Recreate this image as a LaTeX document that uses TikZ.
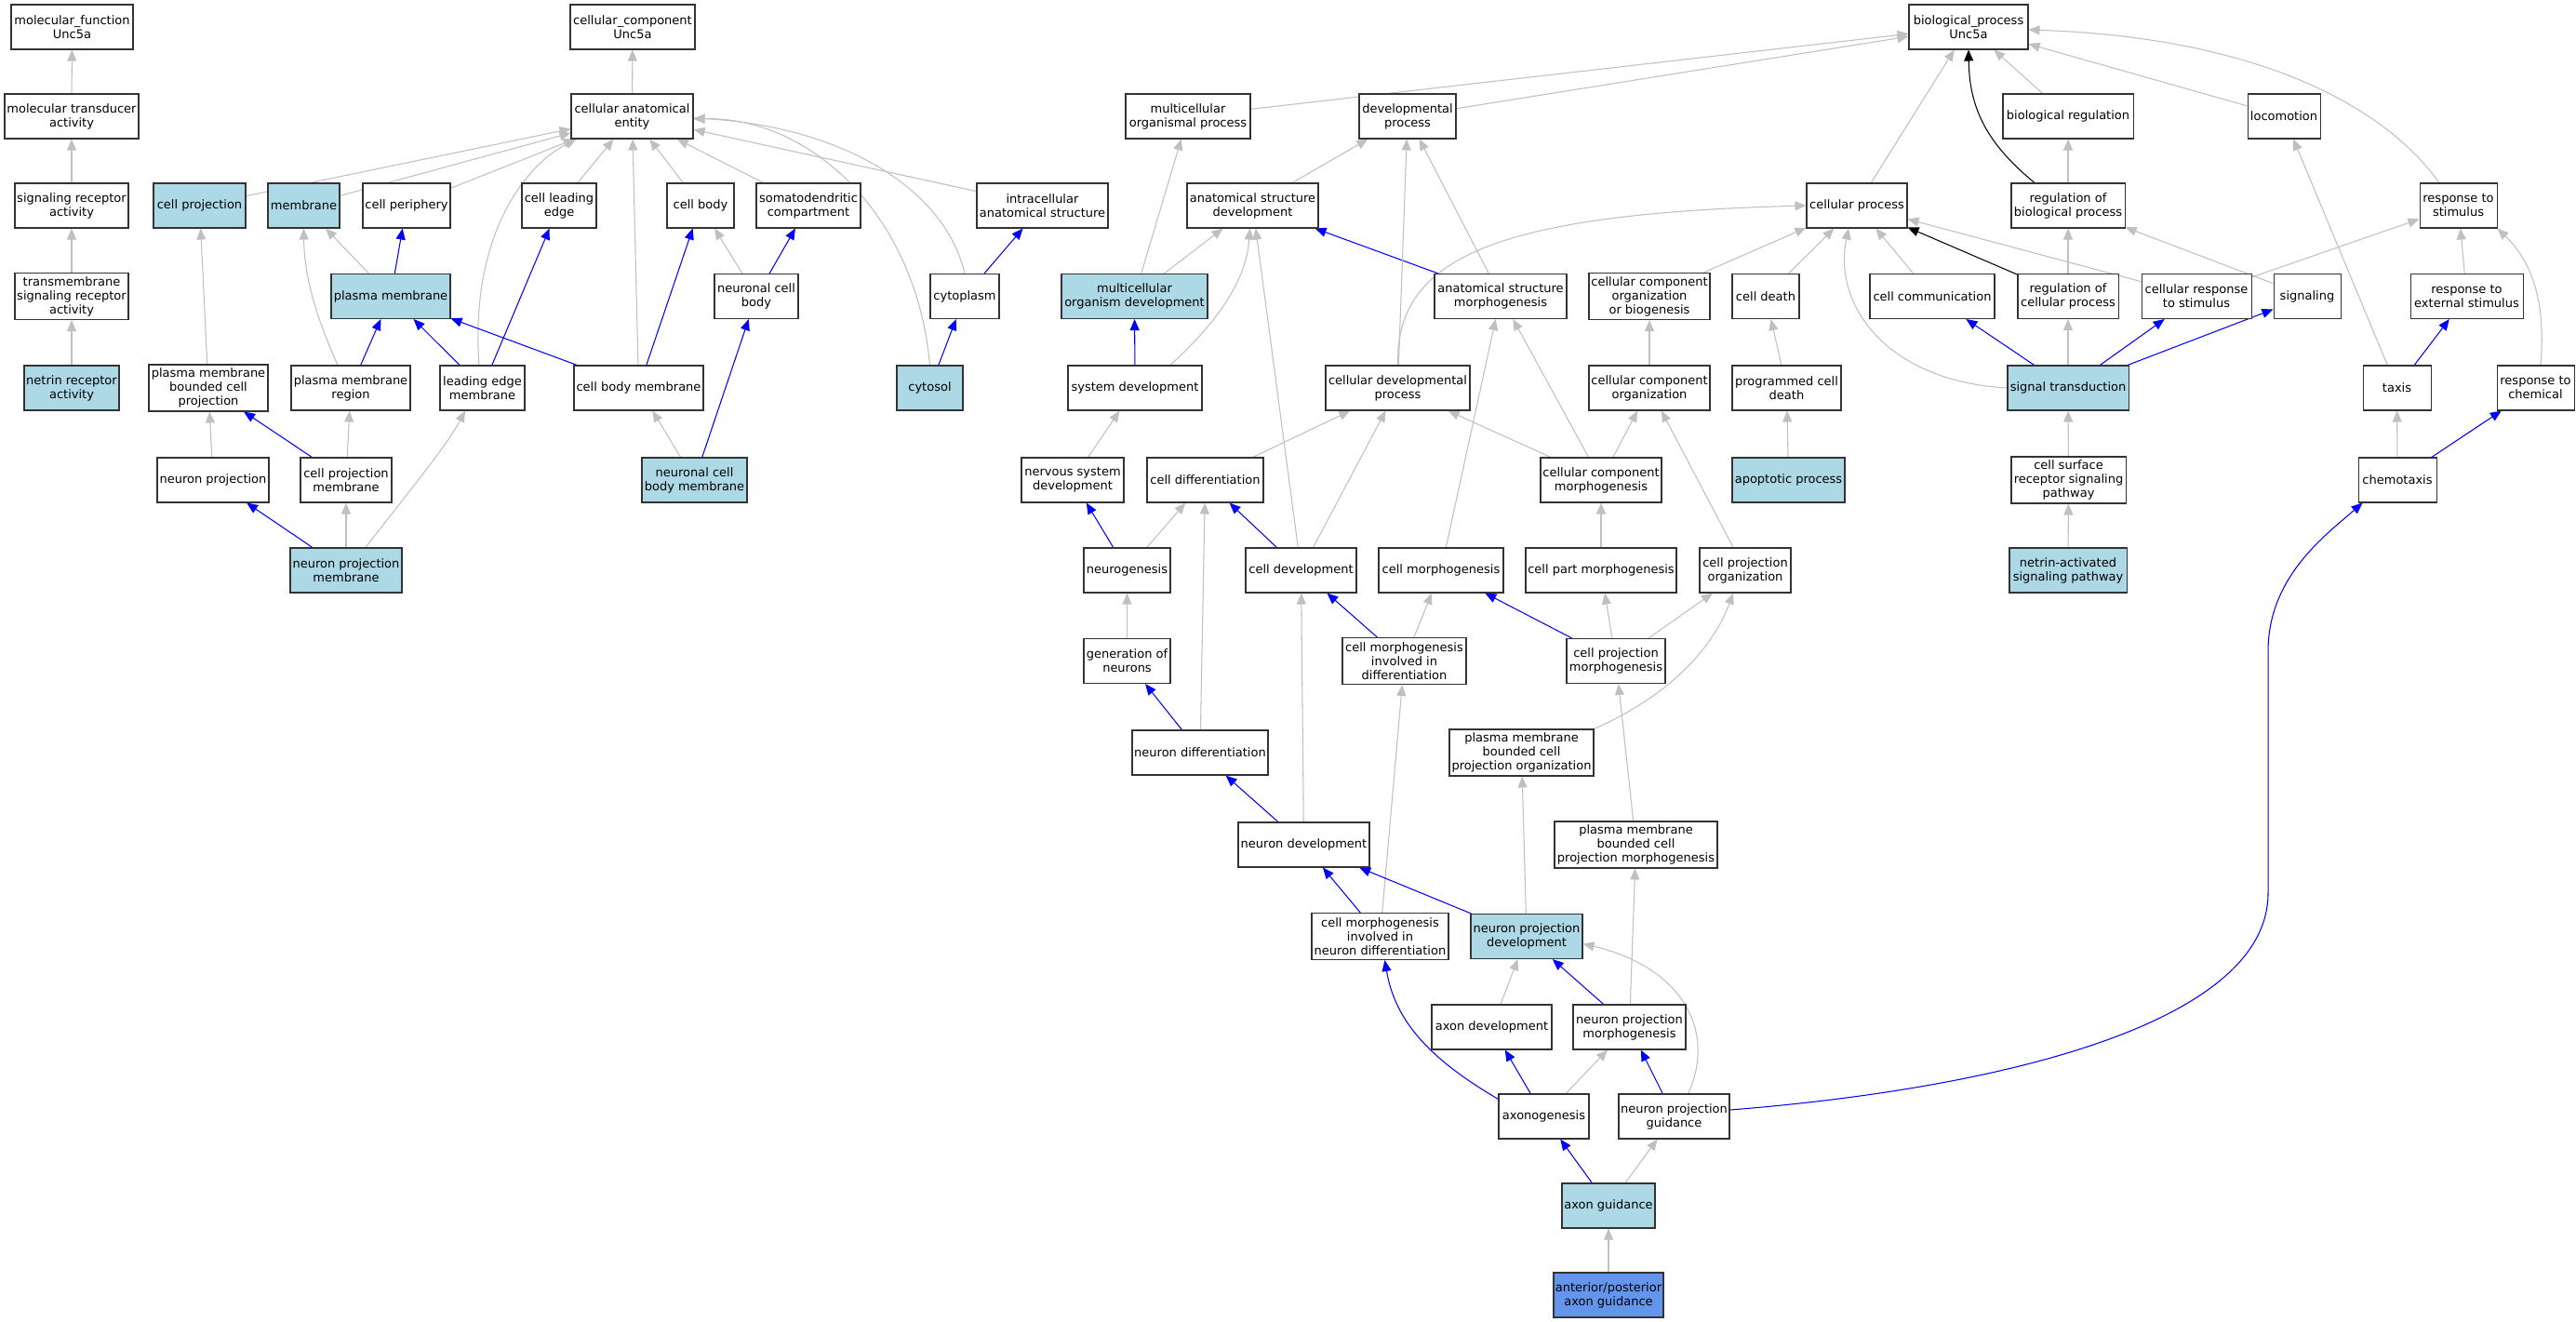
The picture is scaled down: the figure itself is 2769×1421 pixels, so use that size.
\documentclass[tikz,border=0pt]{standalone}
\usepackage{fontspec}
\setmainfont{DejaVu Sans}
\usetikzlibrary{arrows.meta,backgrounds}
\definecolor{lightbluefill}{HTML}{ADD8E6}
\definecolor{cornflower}{HTML}{6495ED}
\definecolor{edgegray}{HTML}{C0C0C0}
\definecolor{boxline}{HTML}{333333}
\tikzset{
  box/.style={draw=boxline, line width=1.05pt, fill=white, rectangle, inner sep=0pt,
    minimum height=48pt, align=center, font=\fontsize{13}{15}\selectfont},
  lb/.style={box, fill=lightbluefill},
  cbx/.style={box, fill=cornflower},
  tall/.style={minimum height=50pt},
  tip/.style={-{Triangle[length=12pt,width=10pt]}},
  ge/.style={draw=edgegray, line width=1.05pt, tip},
  be/.style={draw=blue, line width=1.05pt, tip},
  ke/.style={draw=black, line width=1.05pt, tip},
}
\begin{document}
\begin{tikzpicture}[x=1pt,y=-1pt]
\useasboundingbox (0,0) rectangle (2769,1421);
% Row 0
\node[box, minimum width=131pt] (mf) at (77.5,29) {molecular\_function\\Unc5a};
\node[box, minimum width=134pt] (cc) at (680,29) {cellular\_component\\Unc5a};
\node[box, minimum width=128pt] (bp) at (2116,29) {biological\_process\\Unc5a};
% Row 1
\node[box, minimum width=144pt] (mta) at (77,125) {molecular transducer\\activity};
\node[box, minimum width=131pt] (cae) at (679.5,125) {cellular anatomical\\entity};
\node[box, minimum width=134pt] (mop) at (1277,125) {multicellular\\organismal process};
\node[box, minimum width=104pt] (devp) at (1513,125) {developmental\\process};
\node[box, minimum width=140pt] (breg) at (2223,125) {biological regulation};
\node[box, minimum width=78pt] (loco) at (2455,125) {locomotion};
% Row 2
\node[box, minimum width=122pt] (sra) at (77,221) {signaling receptor\\activity};
\node[lb, minimum width=99pt] (cproj) at (214.5,221) {cell projection};
\node[lb, minimum width=77pt] (memb) at (326.5,221) {membrane};
\node[box, minimum width=94pt] (cper) at (437,221) {cell periphery};
\node[box, minimum width=80pt] (cle) at (601,221) {cell leading\\edge};
\node[box, minimum width=72pt] (cbody) at (753,221) {cell body};
\node[box, minimum width=112pt] (sdc) at (869,221) {somatodendritic\\compartment};
\node[box, minimum width=141pt] (ias) at (1120.5,221) {intracellular\\anatomical structure};
\node[box, minimum width=141pt] (asd) at (1346.5,221) {anatomical structure\\development};
\node[box, minimum width=108pt] (cp) at (1996,221) {cellular process};
\node[box, minimum width=122pt] (rbp) at (2223,221) {regulation of\\biological process};
\node[box, minimum width=83pt] (rts) at (2642.5,221) {response to\\stimulus};
% Row 3
\node[box, tall, minimum width=122pt] (tsra) at (77,318.5) {transmembrane\\signaling receptor\\activity};
\node[lb, minimum width=128pt] (pm) at (420,318.5) {plasma membrane};
\node[box, minimum width=90pt] (ncb) at (813,318.5) {neuronal cell\\body};
\node[box, minimum width=74pt] (cyto) at (1037,318.5) {cytoplasm};
\node[lb, minimum width=157pt] (mod) at (1219.5,318.5) {multicellular\\organism development};
\node[box, minimum width=142pt] (asm) at (1613,318.5) {anatomical structure\\morphogenesis};
\node[box, tall, minimum width=130pt] (ccob) at (1773,318.5) {cellular component\\organization\\or biogenesis};
\node[box, minimum width=72pt] (cdeath) at (1898,318.5) {cell death};
\node[box, minimum width=134pt] (ccomm) at (2077,318.5) {cell communication};
\node[box, minimum width=108pt] (rcp) at (2223,318.5) {regulation of\\cellular process};
\node[box, minimum width=118pt] (crs) at (2361,318.5) {cellular response\\to stimulus};
\node[box, minimum width=72pt] (sig) at (2480,318.5) {signaling};
\node[box, minimum width=121pt] (res) at (2651.5,318.5) {response to\\external stimulus};
% Row 4
\node[lb, minimum width=102pt] (nra) at (77,417) {netrin receptor\\activity};
\node[box, tall, minimum width=128pt] (pmbcp) at (224,417) {plasma membrane\\bounded cell\\projection};
\node[box, minimum width=128pt] (pmr) at (377,417) {plasma membrane\\region};
\node[box, minimum width=91pt] (lem) at (518.5,417) {leading edge\\membrane};
\node[box, minimum width=139pt] (cbm) at (686.5,417) {cell body membrane};
\node[lb, minimum width=71pt] (cytosol) at (999.5,417) {cytosol};
\node[box, minimum width=144pt] (sysdev) at (1220,417) {system development};
\node[box, minimum width=155pt] (cdp) at (1502.5,417) {cellular developmental\\process};
\node[box, minimum width=130pt] (cco) at (1773,417) {cellular component\\organization};
\node[box, minimum width=117pt] (pcd) at (1920.5,417) {programmed cell\\death};
\node[lb, minimum width=130pt] (st) at (2223,417) {signal transduction};
\node[box, minimum width=73pt] (taxis) at (2576.5,417) {taxis};
\node[box, minimum width=83pt] (rtc) at (2725.5,417) {response to\\chemical};
% Row 5
\node[box, minimum width=120pt] (nproj) at (229,516) {neuron projection};
\node[box, minimum width=98pt] (cpm) at (372,516) {cell projection\\membrane};
\node[lb, minimum width=113pt] (ncbm) at (746.5,516) {neuronal cell\\body membrane};
\node[box, minimum width=110pt] (nsd) at (1153,516) {nervous system\\development};
\node[box, minimum width=125pt] (cdiff) at (1295.5,516) {cell differentiation};
\node[box, minimum width=130pt] (ccm) at (1721,516) {cellular component\\morphogenesis};
\node[lb, minimum width=121pt] (apop) at (1922.5,516) {apoptotic process};
\node[box, tall, minimum width=123pt] (csrsp) at (2223.5,516) {cell surface\\receptor signaling\\pathway};
\node[box, minimum width=84pt] (chemo) at (2577,516) {chemotaxis};
% Row 6
\node[lb, minimum width=120pt] (npm) at (372,613) {neuron projection\\membrane};
\node[box, minimum width=93pt] (neurog) at (1211.5,613) {neurogenesis};
\node[box, minimum width=119pt] (cdev) at (1398.5,613) {cell development};
\node[box, minimum width=134pt] (cmorph) at (1549,613) {cell morphogenesis};
\node[box, minimum width=162pt] (cpartm) at (1721,613) {cell part morphogenesis};
\node[box, minimum width=98pt] (cpo) at (1876,613) {cell projection\\organization};
\node[lb, minimum width=126pt] (nasp) at (2223,613) {netrin-activated\\signaling pathway};
% Row 7
\node[box, minimum width=93pt] (gon) at (1211.5,710.5) {generation of\\neurons};
\node[box, tall, minimum width=133pt] (cmid) at (1509.5,710.5) {cell morphogenesis\\involved in\\differentiation};
\node[box, minimum width=106pt] (cpmorph) at (1737,710.5) {cell projection\\morphogenesis};
% Row 8
\node[box, minimum width=146pt] (ndiff) at (1290,809) {neuron differentiation};
\node[box, tall, minimum width=155pt] (pmbcpo) at (1635.5,809) {plasma membrane\\bounded cell\\projection organization};
% Row 9
\node[box, minimum width=141pt] (ndev) at (1401.5,908) {neuron development};
\node[box, tall, minimum width=175pt] (pmbcpm) at (1758.5,908) {plasma membrane\\bounded cell\\projection morphogenesis};
% Row 10
\node[box, tall, minimum width=147pt] (cmind) at (1483.5,1006.5) {cell morphogenesis\\involved in\\neuron differentiation};
\node[lb, minimum width=120pt] (nprojdev) at (1641,1006.5) {neuron projection\\development};
% Row 11
\node[box, minimum width=129pt] (axdev) at (1603.5,1104) {axon development};
\node[box, minimum width=121pt] (nprojmorph) at (1751.5,1104) {neuron projection\\morphogenesis};
% Row 12
\node[box, minimum width=97pt] (axgen) at (1659.5,1200) {axonogenesis};
\node[box, minimum width=119pt] (npg) at (1799.5,1200) {neuron projection\\guidance};
% Row 13
\node[lb, minimum width=100pt] (axg) at (1729,1296) {axon guidance};
% Row 14
\node[cbx, minimum width=118pt] (apag) at (1729,1392) {anterior/posterior\\axon guidance};

\begin{scope}[on background layer]
\fill[white] (0,0) rectangle (2769,1421);
% molecular function
\draw[ge] (mta) -- (mf);
\draw[ge] (sra) -- (mta);
\draw[ge] (tsra) -- (sra);
\draw[ge] (nra) -- (tsra);
% cellular component
\draw[ge] (cae) -- (cc);
\draw[ge] (cproj) -- (cae);
\draw[ge] (memb) -- (cae);
\draw[ge] (cper) -- (cae);
\draw[ge] (cle) -- (cae);
\draw[ge] (cbody) -- (cae);
\draw[ge] (sdc) -- (cae);
\draw[ge] (ias) -- (cae);
\draw[ge] (cyto.north) .. controls (1015,200) and (900,135) .. ([yshift=-2pt]cae.east);
\draw[ge] (cytosol.north) .. controls (985,230) and (870,125) .. ([yshift=-3pt]cae.east);
\draw[ge] ([xshift=-3.5pt]lem.north) .. controls (505,260) and (560,180) .. ([xshift=-60pt]cae.south);
\draw[ge] (cbm) -- (cae);
\draw[ge] (pm) -- (memb);
\draw[be] (pm) -- (cper);
\draw[ge] (pmbcp) -- (cproj);
\draw[ge] ([xshift=-14pt]pmr.north) .. controls (335,330) and (327,290) .. (memb.south);
\draw[be] (pmr) -- (pm);
\draw[be] (lem) -- (pm);
\draw[be] (lem) -- (cle);
\draw[be] (cbm) -- (pm);
\draw[be] (cbm) -- (cbody);
\draw[ge] (ncb) -- (cbody);
\draw[be] (ncb) -- (sdc);
\draw[be] (cyto) -- (ias);
\draw[be] (cytosol) -- (cyto);
\draw[ge] (nproj) -- (pmbcp);
\draw[be] (cpm) -- (pmbcp);
\draw[ge] (cpm) -- (pmr);
\draw[ge] (ncbm) -- (cbm);
\draw[be] (ncbm) -- (ncb);
\draw[be] (npm) -- (nproj);
\draw[ge] (npm) -- (cpm);
\draw[ge] ([xshift=21pt]npm.north) .. controls (430,540) and (480,480) .. ([xshift=-18.5pt]lem.south);
% biological process
\draw[ge] (mop) -- (bp);
\draw[ge] (devp) -- (bp);
\draw[ge] (cp) -- (bp);
\draw[ge] (breg) -- (bp);
\draw[ge] (loco) -- (bp);
\draw[ge] ([xshift=-20.5pt]rts.north) .. controls (2560,110) and (2420,40) .. ([yshift=-3pt]bp.east);
\draw[ke] ([xshift=-36pt]rbp.north) .. controls (2130,150) and (2117,110) .. (bp.south);
\draw[ge] (rbp) -- (breg);
\draw[ge] (asd) -- (devp);
\draw[ge] (mod) -- (mop);
\draw[ge] (mod) -- (asd);
\draw[be] (sysdev) -- (mod);
\draw[ge] ([xshift=38pt]sysdev.north) .. controls (1310,345) and (1340,300) .. ([xshift=-3pt]asd.south);
\draw[be] (asm) -- (asd);
\draw[ge] (asm) -- (devp);
\draw[ge] (cdp) -- (devp);
\draw[ge] (cdp.north) .. controls (1500,280) and (1600,230) .. (cp.west);
\draw[ge] (ccob) -- (cp);
\draw[ge] (cdeath) -- (cp);
\draw[ge] (ccomm) -- (cp);
\draw[ke] (rcp) -- (cp);
\draw[ge] (rcp) -- (rbp);
\draw[ge] (crs) -- (cp);
\draw[ge] (crs) -- (rts);
\draw[ge] (sig) -- (rbp);
\draw[be] (st) -- (ccomm);
\draw[ge] (st) -- (rcp);
\draw[be] (st) -- (crs);
\draw[be] (st) -- (sig);
\draw[ge] (st.west) .. controls (2030,410) and (1970,330) .. ([xshift=-9pt]cp.south);
\draw[ge] (csrsp) -- (st);
\draw[ge] (nasp) -- (csrsp);
\draw[ge] (res) -- (rts);
\draw[be] (taxis) -- (res);
\draw[ge] (taxis) -- (loco);
\draw[ge] ([xshift=5.5pt]rtc.north) .. controls (2737,320) and (2720,280) .. (rts.south east);
\draw[ge] (chemo) -- (taxis);
\draw[be] (chemo) -- (rtc);
\draw[be] ([yshift=7pt]npg.east) .. controls (2150,1170) and (2438,1100) .. (2438,960) -- (2438,700) .. controls (2438,620) and (2500,575) .. ([xshift=5pt]chemo.south west);
\draw[ge] (pcd) -- (cdeath);
\draw[ge] (apop) -- (pcd);
\draw[ge] (cco) -- (ccob);
\draw[ge] (ccm) -- (cco);
\draw[ge] (ccm) -- (cdp);
\draw[ge] (ccm) -- (asm);
\draw[ge] (nsd) -- (sysdev);
\draw[ge] (cdiff) -- (cdp);
\draw[be] (neurog) -- (nsd);
\draw[ge] (neurog) -- (cdiff);
\draw[be] (cdev) -- (cdiff);
\draw[ge] (cdev) -- (cdp);
\draw[ge] (cdev) -- (asd);
\draw[ge] (cmorph) -- (asm);
\draw[ge] (cpartm) -- (ccm);
\draw[ge] (cpo) -- (cco);
\draw[ge] (gon) -- (neurog);
\draw[be] (ndiff) -- (gon);
\draw[ge] (ndiff) -- (cdiff);
\draw[be] (cmid) -- (cdev);
\draw[ge] (cmid) -- (cmorph);
\draw[be] (cpmorph) -- (cmorph);
\draw[ge] (cpmorph) -- (cpartm);
\draw[ge] (cpmorph) -- (cpo);
\draw[ge] (pmbcpo.north east) .. controls (1790,750) and (1840,700) .. ([xshift=-13pt]cpo.south);
\draw[be] (ndev) -- (ndiff);
\draw[ge] (ndev) -- (cdev);
\draw[ge] (pmbcpm) -- (cpmorph);
\draw[be] (cmind) -- (ndev);
\draw[ge] (cmind) -- (cmid);
\draw[be] (nprojdev) -- (ndev);
\draw[ge] (nprojdev) -- (pmbcpo);
\draw[ge] (axdev) -- (nprojdev);
\draw[be] (nprojmorph) -- (nprojdev);
\draw[ge] (nprojmorph) -- (pmbcpm);
\draw[be] (axgen) -- (axdev);
\draw[ge] (axgen) -- (nprojmorph);
\draw[be] ([yshift=-6pt]axgen.north west) .. controls (1540,1140) and (1500,1100) .. ([xshift=5pt]cmind.south);
\draw[be] (npg) -- (nprojmorph);
\draw[ge] ([xshift=15pt]npg.north) .. controls (1845,1110) and (1810,1040) .. ([yshift=-8pt]nprojdev.east);
\draw[be] (axg) -- (axgen);
\draw[ge] (axg) -- (npg);
\draw[ge] (apag) -- (axg);
\end{scope}
\end{tikzpicture}
\end{document}
